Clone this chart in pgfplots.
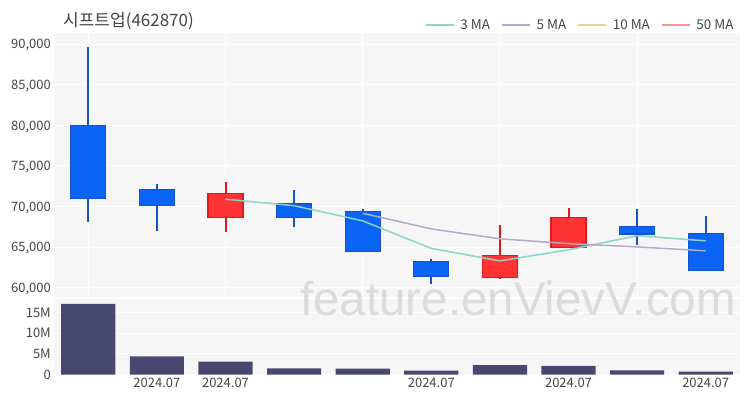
\documentclass[border=0pt]{standalone}
\usepackage{fontspec}
\setmainfont{Noto Sans CJK KR}
\newfontfamily\wmfont{Liberation Sans}
\usepackage{pgfplots}
\pgfplotsset{compat=1.18}

\definecolor{bgc}{HTML}{F6F6F6}
\definecolor{tickc}{HTML}{444444}
\definecolor{dnfill}{HTML}{0A64F5}
\definecolor{dnedge}{HTML}{1452D2}
\definecolor{upfill}{HTML}{FF3333}
\definecolor{upedge}{HTML}{E01A1A}
\definecolor{volc}{HTML}{474770}
\definecolor{maA}{HTML}{8DD3C7}
\definecolor{maB}{HTML}{B5A8C8}
\definecolor{maC}{HTML}{F5D08A}
\definecolor{maD}{HTML}{F99390}

\pgfplotsset{
  wick/.style={forget plot, line width=2pt, unbounded coords=jump},
  dn/.style={forget plot, draw=dnedge, fill=dnfill, line width=1.2pt},
  up/.style={forget plot, draw=upedge, fill=upfill, line width=1.2pt},
  panel/.style={scale only axis, width=686pt,
    xmin=-0.5, xmax=9.5,
    axis background/.style={fill=bgc},
    axis line style={draw=none},
    major tick length=0pt,
    grid style={white, line width=1pt},
    scaled y ticks=false,
    yticklabel style={anchor=base east, inner sep=0pt, xshift=-3pt, yshift=-4.7pt,
      font=\fontsize{13}{15}\selectfont, text=tickc},
    xticklabel style={anchor=base, inner sep=0pt, yshift=-13pt,
      font=\fontsize{13}{15}\selectfont, text=tickc}},
}

\begin{document}
\begin{tikzpicture}
\path[use as bounding box] (0pt,0pt) rectangle (750pt,400pt);

\node[anchor=west, inner sep=0pt, text=tickc, font=\fontsize{17}{19}\selectfont] at (63pt,379pt) {시프트업(462870)};

% price panel (prices in thousands of won)
\begin{axis}[panel, at={(54pt,103pt)}, anchor=south west, height=264pt,
  ymin=58.85, ymax=91.37,
  xtick={0,2,4,6,8}, xticklabels={},
  ytick={60,65,70,75,80,85,90},
  yticklabels={{60,000},{65,000},{70,000},{75,000},{80,000},{85,000},{90,000}},
  xmajorgrids, ymajorgrids,
  legend columns=4,
  legend image code/.code={\draw[#1] (0pt,0pt) -- (28pt,0pt);},
  legend style={at={(0.991,1.030)}, anchor=east, draw=none, fill=none,
    font=\fontsize{13.5}{15}\selectfont, text=tickc, inner sep=0pt,
    nodes={inner sep=0pt},
    /tikz/every odd column/.append style={column sep=6pt},
    /tikz/every even column/.append style={column sep=11pt}},
]
% wicks: low to high
\addplot[wick, dnedge] coordinates {
(0,68.1)(0,89.6)(0,inf) (1,67.0)(1,72.8)(1,inf) (3,67.5)(3,72.0)(3,inf)
(4,64.5)(4,69.7)(4,inf) (5,60.5)(5,63.5)(5,inf) (8,65.3)(8,69.7)(8,inf)
(9,62.1)(9,68.8)};
\addplot[wick, upedge] coordinates {
(2,66.8)(2,73.0)(2,inf) (6,61.1)(6,67.7)(6,inf) (7,64.9)(7,69.8)};

% bodies: open to close
\addplot[dn] coordinates {(-0.255,71.0)(0.255,71.0)(0.255,80.0)(-0.255,80.0)} --cycle;
\addplot[dn] coordinates {(0.745,70.1)(1.255,70.1)(1.255,72.1)(0.745,72.1)} --cycle;
\addplot[up] coordinates {(1.745,68.6)(2.255,68.6)(2.255,71.6)(1.745,71.6)} --cycle;
\addplot[dn] coordinates {(2.745,68.6)(3.255,68.6)(3.255,70.3)(2.745,70.3)} --cycle;
\addplot[dn] coordinates {(3.745,64.5)(4.255,64.5)(4.255,69.4)(3.745,69.4)} --cycle;
\addplot[dn] coordinates {(4.745,61.4)(5.255,61.4)(5.255,63.2)(4.745,63.2)} --cycle;
\addplot[up] coordinates {(5.745,61.3)(6.255,61.3)(6.255,64.0)(5.745,64.0)} --cycle;
\addplot[up] coordinates {(6.745,64.9)(7.255,64.9)(7.255,68.6)(6.745,68.6)} --cycle;
\addplot[dn] coordinates {(7.745,66.6)(8.255,66.6)(8.255,67.5)(7.745,67.5)} --cycle;
\addplot[dn] coordinates {(8.745,62.1)(9.255,62.1)(9.255,66.7)(8.745,66.7)} --cycle;

% moving averages
\addplot[forget plot, maA, line width=1.5pt] coordinates {
(2,70.900)(3,70.100)(4,68.233)(5,64.833)(6,63.300)(7,64.667)(8,66.400)(9,65.767)};
\addplot[forget plot, maB, line width=1.5pt] coordinates {
(4,69.160)(5,67.240)(6,66.020)(7,65.420)(8,65.020)(9,64.540)};

\addlegendimage{maA, line width=1.5pt}
\addlegendentry{3 MA}
\addlegendimage{maB, line width=1.5pt}
\addlegendentry{5 MA}
\addlegendimage{maC, line width=1.5pt}
\addlegendentry{10 MA}
\addlegendimage{maD, line width=1.5pt}
\addlegendentry{50 MA}
\end{axis}

% volume panel (millions)
\begin{axis}[panel, at={(54pt,25.5pt)}, anchor=south west, height=75.5pt,
  ymin=0, ymax=18.28,
  ytick={0,5,10,15},
  yticklabels={0,5M,10M,15M},
  xtick={1,2,5,7,9},
  xticklabels={2024.07,2024.07,2024.07,2024.07,2024.07},
  ymajorgrids,
]
\addplot[ybar, bar width=0.79, bar shift=0pt, fill=volc, draw=none] coordinates {
(0,17.1)(1,4.4)(2,3.1)(3,1.5)(4,1.4)
(5,0.92)(6,2.3)(7,2.06)(8,1.0)(9,0.68)};
\end{axis}

\node[anchor=base west, inner sep=0pt, text=black!14, font=\wmfont\fontsize{47.5}{51}\selectfont] at (300pt,85pt) {feature.enVievV.com};
\end{tikzpicture}
\end{document}
